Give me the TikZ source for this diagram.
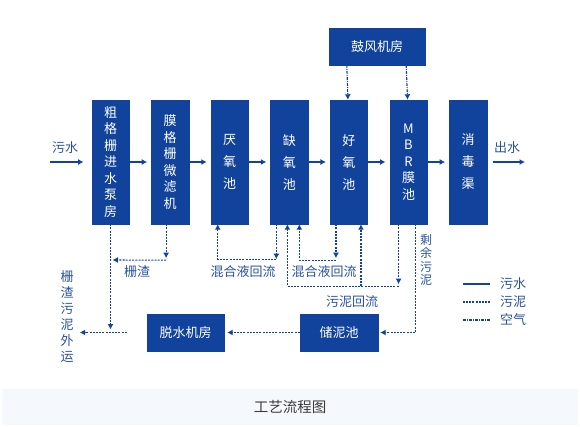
\documentclass[tikz,border=0pt]{standalone}
\usepackage{fontspec}
\setmainfont{Noto Sans CJK SC}
\usetikzlibrary{positioning,arrows.meta}
\definecolor{poolblue}{RGB}{17,67,156}
\definecolor{labelblue}{RGB}{40,82,160}
\definecolor{bandgray}{RGB}{245,248,252}
\definecolor{captiongray}{RGB}{60,60,60}
\tikzset{
  pool/.style={draw=poolblue,fill=poolblue,text=white,minimum width=37.5pt,
    minimum height=124pt,inner sep=0pt,align=center,font=\fontsize{13}{16.5}\selectfont},
  pool3/.style={pool,font=\fontsize{13}{22}\selectfont},
  house/.style={draw=poolblue,fill=poolblue,text=white,minimum height=37pt,
    inner sep=0pt,font=\fontsize{13}{14}\selectfont},
  lbl/.style={text=labelblue,inner sep=0pt,align=center,font=\fontsize{13}{16}\selectfont},
  tip/.style={-{Latex[length=5.5pt,width=6pt]}},
  water/.style={poolblue,line width=1.7pt},
  sludge/.style={poolblue,line width=1.1pt,dash pattern=on 2pt off 1.2pt},
  air/.style={poolblue,line width=1.1pt,dash pattern=on 3pt off 1pt on 1pt off 1pt}
}
\begin{document}
\begin{tikzpicture}[x=1pt,y=-1pt]
\useasboundingbox (0,0) rectangle (580,427);

% Treatment units along the main line
\node[pool] (cuge) at (110.5,162) {粗\\格\\栅\\进\\水\\泵\\房};
\node[pool,right=21.7pt of cuge] (moge) {膜\\格\\栅\\微\\滤\\机};
\node[pool3,right=21.7pt of moge] (yanyang) {厌\\氧\\池};
\node[pool3,right=21.7pt of yanyang] (queyang) {缺\\氧\\池};
\node[pool3,right=21.7pt of queyang] (haoyang) {好\\氧\\池};
\node[pool,right=21.7pt of haoyang] (mbr) {M\\B\\R\\膜\\池};
\node[pool3,right=21.7pt of mbr] (xiaodu) {消\\毒\\渠};

% Blower room and sludge units
\node[house,minimum width=96pt] (gufeng) at (377,46.5) {鼓风机房};
\node[house,minimum width=77pt] (tuoshui) at (185.5,332.5) {脱水机房};
\node[house,minimum width=78pt] (chuni) at (339,332.5) {储泥池};

% Inlet and outlet
\coordinate (inlet) at (50,162);
\coordinate (outlet) at (525,162);
\node[lbl] (wushui) at (65,148) {污水};
\node[lbl] (chushui) at (507,148) {出水};
\draw[water,tip,shorten >=8pt] (inlet) -- (cuge);
\draw[water,tip,shorten >=4pt] (cuge) -- (moge);
\draw[water,tip,shorten >=4pt] (moge) -- (yanyang);
\draw[water,tip,shorten >=4pt] (yanyang) -- (queyang);
\draw[water,tip,shorten >=4pt] (queyang) -- (haoyang);
\draw[water,tip,shorten >=4pt] (haoyang) -- (mbr);
\draw[water,tip,shorten >=4pt] (mbr) -- (xiaodu);
\draw[water,tip,shorten <=6pt] (xiaodu) -- (outlet);

% Air from the blower room
\draw[air,tip] ([xshift=18pt]gufeng.south west) -- ([xshift=18pt]haoyang.north west);
\draw[air,tip] ([xshift=-19pt]gufeng.south east) -- ([xshift=18pt]mbr.north west);

% Screenings
\node[lbl] (zhazha) at (137,272) {栅渣};
\draw[sludge,tip] ([xshift=-4pt]moge.south) -- ++(0,34);
\draw[sludge,tip] ([xshift=-4pt]moge.south) ++(0,36) -- ([xshift=2pt]cuge.south |- 0,260);
\draw[sludge,tip,shorten >=3pt] (cuge.south) -- (cuge.south |- tuoshui.west);

% Mixed liquor returns
\node[lbl] (hunhe1) at (243,272) {混合液回流};
\node[lbl] (hunhe2) at (324,272) {混合液回流};
\draw[sludge,tip] ([xshift=6pt]queyang.south west) -- ++(0,35);
\draw[sludge,tip] ([xshift=6pt]queyang.south west) ++(0,35) -| ([xshift=7pt]yanyang.south west);
\draw[sludge,tip] ([xshift=6pt]haoyang.south west) -- ++(0,34);
\draw[sludge,tip] ([xshift=6pt]haoyang.south west) ++(0,36) -| ([xshift=29pt]queyang.south west);

% Return sludge
\node[lbl] (huiliu) at (352,302) {污泥回流};
\draw[sludge,tip] ([xshift=9pt]mbr.south west) -- ++(0,60);
\draw[sludge,tip] ([xshift=9pt]mbr.south west) ++(0,62) -| ([xshift=17pt]queyang.south west);
\draw[sludge,tip] ([xshift=31pt]haoyang.south west) ++(0,62) -- ([xshift=31pt]haoyang.south west);

% Excess sludge to dewatering
\node[lbl,font=\fontsize{12}{13.3}\selectfont] (shengyu) at (426,260) {剩\\余\\污\\泥};
\draw[sludge,tip,shorten >=2pt] ([xshift=26pt]mbr.south west) |- (chuni.east);
\draw[sludge,tip,shorten >=3pt] (chuni.west) -- (tuoshui.east);
\node[lbl] (waiyun) at (67,316.5) {栅\\渣\\污\\泥\\外\\运};
\draw[sludge,tip,shorten <=20pt,shorten >=6pt] (tuoshui.west) -- (tuoshui.west -| waiyun.east);

% Legend
\node[lbl] (lgwater) at (513,284) {污水};
\node[lbl] (lgsludge) at (513,302) {污泥};
\node[lbl] (lgair) at (513,320) {空气};
\draw[water,line width=1.3pt] ([xshift=-37pt]lgwater.west) -- ([xshift=-10pt]lgwater.west);
\draw[sludge] ([xshift=-37pt]lgsludge.west) -- ([xshift=-10pt]lgsludge.west);
\draw[air] ([xshift=-37pt]lgair.west) -- ([xshift=-10pt]lgair.west);

% Caption band
\fill[bandgray] (2,389) rectangle (578,425);
\node[text=captiongray,font=\fontsize{14.5}{16}\selectfont] (title) at (290,407) {工艺流程图};
\end{tikzpicture}
\end{document}
